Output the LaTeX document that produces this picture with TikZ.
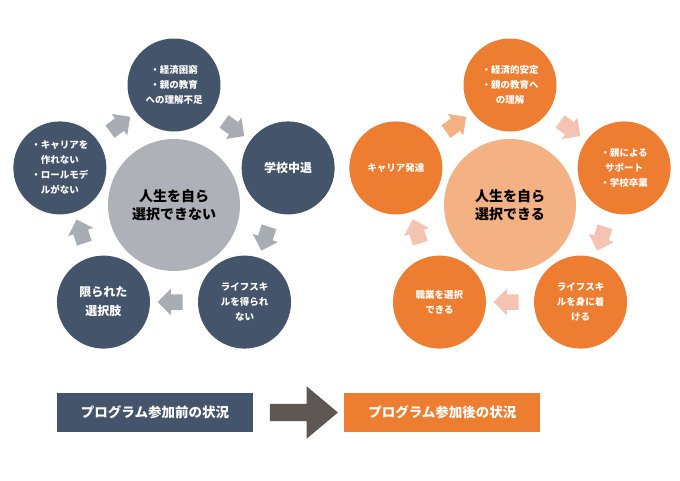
\documentclass[tikz,border=0pt]{standalone}
\usepackage{fontspec}
\setmainfont{Noto Sans CJK JP}
\usepackage{tikz}
\usetikzlibrary{positioning,calc,shapes.arrows}
\definecolor{navy}{HTML}{44546A}
\definecolor{ash}{HTML}{AEB1B7}
\definecolor{ashar}{HTML}{A8ACB3}
\definecolor{amber}{HTML}{ED7D31}
\definecolor{peach}{HTML}{F4B183}
\definecolor{blush}{HTML}{F4C3B1}
\definecolor{umber}{HTML}{5D5652}

\begin{document}
\begin{tikzpicture}[x=1pt,y=1pt,
      hub/.style={circle,minimum size=132pt,inner sep=0pt,align=center,text=black,
                  font=\fontsize{14}{18}\selectfont\bfseries},
      pod/.style={circle,minimum size=93pt,inner sep=0pt,align=center,text=white,
                  font=\fontsize{9.5}{15}\selectfont\bfseries},
      big/.style={font=\fontsize{12}{19}\selectfont\bfseries},
      turn/.style={single arrow,minimum height=25pt,inner xsep=0pt,inner ysep=7.5pt,
                   single arrow head extend=5.5pt,single arrow tip angle=90},
      bar/.style={minimum width=196pt,minimum height=39pt,inner sep=0pt,text=white,
                  font=\fontsize{13.5}{16}\selectfont\bfseries}]
  \useasboundingbox (0,0) rectangle (680,-480);
  % before the programme
  \node[hub,fill=ash] (lmid) at (174,-205) {人生を自ら\\選択できない};
  \node[pod,fill=navy] (l1) at ($(lmid)+(90:120)$) {・経済困窮\\・親の教育\\への理解不足};
  \node[pod,big,fill=navy] (l2) at ($(lmid)+(18:120)$) {学校中退};
  \node[pod,fill=navy] (l3) at ($(lmid)+(-54:120)$) {ライフスキ\\ルを得られ\\ない};
  \node[pod,big,fill=navy] (l4) at ($(lmid)+(-126:120)$) {限られた\\選択肢};
  \node[pod,fill=navy] (l5) at ($(lmid)+(162:120)$) {・キャリアを\\作れない\\・ロールモデ\\ルがない};
  \node[turn,fill=ashar,rotate=-36] (la1) at ($(l1)!.5!(l2)$) {};
  \node[turn,fill=ashar,rotate=-108] (la2) at ($(l2)!.5!(l3)$) {};
  \node[turn,fill=ashar,rotate=180] (la3) at ($(l3)!.5!(l4)$) {};
  \node[turn,fill=ashar,rotate=108] (la4) at ($(l4)!.5!(l5)$) {};
  \node[turn,fill=ashar,rotate=36] (la5) at ($(l5)!.5!(l1)$) {};
  % after the programme
  \node[hub,fill=peach] (rmid) at (510,-205) {人生を自ら\\選択できる};
  \node[pod,fill=amber] (r1) at ($(rmid)+(90:120)$) {・経済的安定\\・親の教育へ\\の理解};
  \node[pod,fill=amber] (r2) at ($(rmid)+(18:120)$) {・親による\\サポート\\・学校卒業};
  \node[pod,fill=amber] (r3) at ($(rmid)+(-54:120)$) {ライフスキ\\ルを身に着\\ける};
  \node[pod,fill=amber] (r4) at ($(rmid)+(-126:120)$) {職業を選択\\できる};
  \node[pod,fill=amber] (r5) at ($(rmid)+(162:120)$) {キャリア発達};
  \node[turn,fill=blush,rotate=-36] (ra1) at ($(r1)!.5!(r2)$) {};
  \node[turn,fill=blush,rotate=-108] (ra2) at ($(r2)!.5!(r3)$) {};
  \node[turn,fill=blush,rotate=180] (ra3) at ($(r3)!.5!(r4)$) {};
  \node[turn,fill=blush,rotate=108] (ra4) at ($(r4)!.5!(r5)$) {};
  \node[turn,fill=peach,rotate=36] (ra5) at ($(r5)!.5!(r1)$) {};
  % labels
  \node[bar,fill=navy] (pre) at (155,-412.5) {プログラム参加前の状況};
  \node[bar,fill=amber,right=91pt of pre] (post) {プログラム参加後の状況};
  \node[single arrow,fill=umber,inner xsep=0pt,inner ysep=8.5pt,minimum height=68pt,
        single arrow head extend=17.5pt,single arrow tip angle=80] (go) at ($(pre.east)!.5!(post.west)$) {};
\end{tikzpicture}
\end{document}
